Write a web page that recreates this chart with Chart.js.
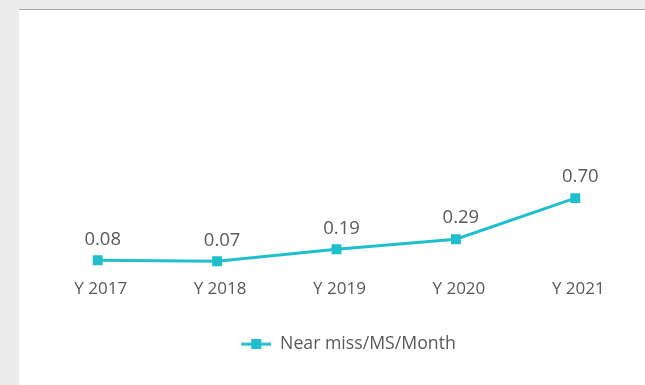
<!DOCTYPE html>
<html>
<head>
<meta charset="utf-8">
<script src="https://cdn.jsdelivr.net/npm/chart.js@4"></script>
<style>
    body { margin: 0; background: #ececec; width: 645px; height: 385px; overflow: hidden; }
    .panel {
        position: absolute; left: 19px; top: 9px; width: 626px; height: 376px;
        background: #fff; border-top: 1px solid #a8a8a8;
    }
    .panel canvas { position: absolute; left: 0; top: 0; }
</style>
</head>
<body>
<div class="panel">
    <canvas id="nearMissChart" width="626" height="375"></canvas>
</div>
<script>
// Data
const years = ["Y 2017", "Y 2018", "Y 2019", "Y 2020", "Y 2021"];
const nearMissRate = [0.08, 0.07, 0.19, 0.29, 0.70];
const seriesName = "Near miss/MS/Month";

const lineColor = "#1fbfcd";
const textColor = "#595959";
const fontFamily = "'Open Sans', sans-serif";

// Icon for the legend: short line with a square on it
// (blank space on the left nudges the whole item to the right)
function makeLegendIcon() {
    const c = document.createElement("canvas");
    c.width = 54;
    c.height = 10;
    const g = c.getContext("2d");
    g.fillStyle = lineColor;
    g.fillRect(24, 3.5, 30, 3);
    g.fillRect(34, 0, 10, 10);
    return c;
}

// Value labels above each point
const valueLabels = {
    id: "valueLabels",
    afterDatasetsDraw(chart) {
        const ctx = chart.ctx;
        const meta = chart.getDatasetMeta(0);
        ctx.save();
        ctx.font = "18.5px " + fontFamily;
        ctx.fillStyle = textColor;
        ctx.textAlign = "center";
        ctx.textBaseline = "middle";
        meta.data.forEach((pt, i) => {
            ctx.fillText(nearMissRate[i].toFixed(2), pt.x + 5, pt.y - 21);
        });
        ctx.restore();
    }
};

function renderChart() {
    const ctx = document.getElementById("nearMissChart").getContext("2d");
    new Chart(ctx, {
        type: "line",
        data: {
            labels: years,
            datasets: [{
                label: seriesName,
                data: nearMissRate,
                borderColor: lineColor,
                backgroundColor: lineColor,
                borderWidth: 3,
                pointStyle: "rect",
                pointRadius: 7,
                pointBorderWidth: 0,
                pointBackgroundColor: lineColor,
                tension: 0
            }]
        },
        options: {
            responsive: false,
            animation: false,
            layout: { padding: { left: 19, right: 10, top: 138, bottom: 22 } },
            scales: {
                x: {
                    offset: true,
                    grid: { display: false, drawTicks: false },
                    border: { display: false },
                    ticks: {
                        color: textColor,
                        font: { family: fontFamily, size: 17 },
                        padding: 11,
                        labelOffset: 3,
                        maxRotation: 0
                    },
                    afterFit(scale) { scale.height = 47; }
                },
                y: { display: false, min: 0, max: 1.2 }
            },
            plugins: {
                tooltip: { enabled: false },
                legend: {
                    position: "bottom",
                    labels: {
                        usePointStyle: true,
                        pointStyle: makeLegendIcon(),
                        pointStyleWidth: 54,
                        color: textColor,
                        font: { family: fontFamily, size: 17.7 },
                        padding: 20
                    }
                }
            }
        },
        plugins: [valueLabels]
    });
}

document.addEventListener("DOMContentLoaded", renderChart);
</script>
</body>
</html>
